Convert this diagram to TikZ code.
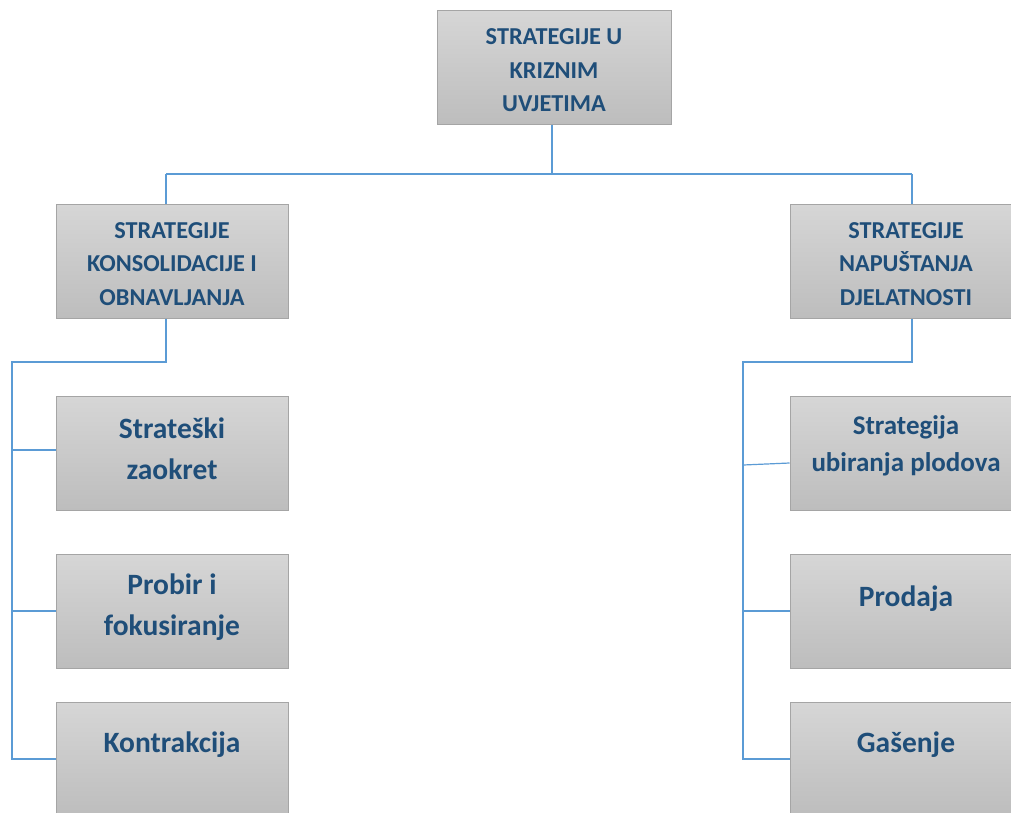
\documentclass[tikz,border=0pt]{standalone}
\usepackage{fontspec}
\setmainfont{Carlito}
\usetikzlibrary{calc}
\definecolor{txtblue}{HTML}{1F4E79}
\definecolor{connblue}{HTML}{5B9BD5}
\definecolor{boxline}{HTML}{A5A5A5}
\definecolor{boxtop}{HTML}{D6D6D6}
\definecolor{boxbot}{HTML}{BDBDBD}
\begin{document}
\begin{tikzpicture}[x=1pt,y=-1pt,
  box/.style={rectangle,draw=boxline,line width=1pt,top color=boxtop,bottom color=boxbot,
    minimum width=232pt,minimum height=114pt,inner sep=0pt},
  capslbl/.style={text=txtblue,align=center,font=\bfseries\fontsize{24.3}{33.5}\selectfont,inner sep=0pt},
  biglbl/.style={text=txtblue,align=center,font=\bfseries\fontsize{29.5}{41}\selectfont,inner sep=0pt},
  midlbl/.style={text=txtblue,align=center,font=\bfseries\fontsize{27}{37}\selectfont,inner sep=0pt},
  conn/.style={draw=connblue,line width=1.2pt}]
\clip (0,0) rectangle (1011,812);
\fill[white] (0,0) rectangle (1011,812);
% boxes
\node[box,minimum width=234pt] (top) at (554,67) {};
\node[box] (L1) at (172,261) {};
\node[box] (R1) at (906,261) {};
\node[box] (la) at (172,453) {};
\node[box] (lb) at (172,611) {};
\node[box] (lc) at (172,759) {};
\node[box] (ra) at (906,453) {};
\node[box] (rb) at (906,611) {};
\node[box] (rc) at (906,759) {};
% labels
\node[capslbl] (ttop) at (554,70.5) {STRATEGIJE U\\KRIZNIM\\UVJETIMA};
\node[capslbl] (tL1) at (172,264) {STRATEGIJE\\KONSOLIDACIJE I\\OBNAVLJANJA};
\node[capslbl] (tR1) at (906,264) {STRATEGIJE\\NAPUŠTANJA\\DJELATNOSTI};
\node[biglbl] (tla) at (172,449) {Strateški\\zaokret};
\node[biglbl] (tlb) at (172,607) {Probir i\\fokusiranje};
\node[biglbl] (tlc) at (172,745) {Kontrakcija};
\node[midlbl] (tra) at (906,446) {Strategija\\ubiranja plodova};
\node[biglbl] (trb) at (906,599) {Prodaja};
\node[biglbl] (trc) at (906,745) {Gašenje};
% connectors
\coordinate (busL) at (166,174);
\coordinate (busR) at (912,174);
\coordinate (lt) at (12,362);
\coordinate (rt) at (743,362);
\draw[conn] ([xshift=-2pt]top.south) -- ([xshift=-2pt]top.south |- busL);
\draw[conn] (busL) -- (busR);
\draw[conn] (busL) -- (busL |- L1.north);
\draw[conn] (busR) -- (busR |- R1.north);
\draw[conn] (L1.south -| busL) |- (lt) |- (lc.west);
\draw[conn] ($(la.west)+(0,-3)$) -- ($(la.west -| lt)+(0,-3)$);
\draw[conn] (lb.west) -- (lb.west -| lt);
\draw[conn] (R1.south -| busR) |- (rt) |- (rc.west);
\draw[conn] ($(ra.west)+(0,10)$) -- ($(ra.west -| rt)+(0,12)$);
\draw[conn] (rb.west) -- (rb.west -| rt);
\end{tikzpicture}
\end{document}
